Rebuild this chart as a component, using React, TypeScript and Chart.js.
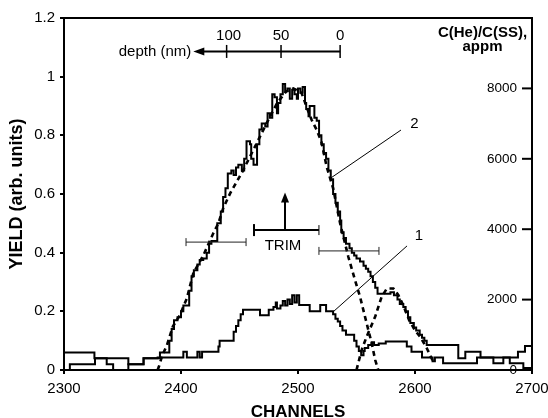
import React, { useEffect, useRef } from 'react';
import { Chart, registerables } from 'chart.js';

Chart.register(...registerables);

const FONT = "'Liberation Sans', Arial, Helvetica, sans-serif";

// x-axis (channels) and y-axis ticks
const channelTicks = [2300, 2400, 2500, 2600, 2700];
const yieldTicks = [0, 0.2, 0.4, 0.6, 0.8, 1, 1.2];
const heTicks = [0, 2000, 4000, 6000, 8000];

// Curve 2 – measured yield (solid, step-like) [channel, yield]
const curve2: [number, number][] = [
  [2300, 0.06], [2326, 0.04], [2355, 0.02], [2368, 0.04], [2376, 0.04], [2382, 0.06], [2390, 0.10],
  [2392, 0.14], [2394, 0.17], [2397, 0.18], [2400, 0.20], [2402, 0.22], [2407, 0.27], [2409, 0.32],
  [2411, 0.34], [2414, 0.36], [2416, 0.375], [2419, 0.38], [2422, 0.40], [2424, 0.43], [2426, 0.44],
  [2431, 0.50], [2434, 0.54], [2436, 0.59], [2438, 0.62], [2440, 0.67], [2443, 0.68], [2445, 0.665],
  [2447, 0.69], [2449, 0.70], [2452, 0.68], [2454, 0.72], [2456, 0.78], [2459, 0.77], [2460, 0.72],
  [2462, 0.70], [2465, 0.77], [2467, 0.82], [2469, 0.84], [2472, 0.83], [2474, 0.875], [2476, 0.86],
  [2478, 0.94], [2480, 0.93], [2482, 0.875], [2483, 0.91], [2485, 0.94], [2487, 0.975], [2489, 0.95],
  [2491, 0.96], [2493, 0.925], [2495, 0.955], [2497, 0.94], [2499, 0.925], [2500, 0.96], [2502, 0.945],
  [2504, 0.965], [2506, 0.91], [2507, 0.89], [2509, 0.865], [2510, 0.90], [2514, 0.86], [2516, 0.85],
  [2518, 0.80], [2520, 0.77], [2522, 0.74], [2524, 0.72], [2526, 0.68], [2528, 0.65], [2530, 0.60],
  [2532, 0.57], [2534, 0.54], [2536, 0.51], [2537, 0.47], [2539, 0.45], [2541, 0.43], [2544, 0.415],
  [2546, 0.40], [2548, 0.39], [2550, 0.38], [2553, 0.37], [2556, 0.355], [2558, 0.345], [2560, 0.335],
  [2562, 0.32], [2564, 0.30], [2566, 0.28], [2568, 0.26], [2579, 0.265], [2582, 0.255], [2585, 0.24],
  [2587, 0.225], [2590, 0.215], [2592, 0.20], [2594, 0.18], [2596, 0.16], [2599, 0.145], [2601, 0.135],
  [2604, 0.12], [2606, 0.11], [2608, 0.10], [2610, 0.085], [2637, 0.04], [2643, 0.062], [2656, 0.043],
  [2688, 0.062], [2694, 0.082], [2700, 0.082],
];

// Curve 1 – measured yield (solid, step-like) [channel, yield]
const curve1: [number, number][] = [
  [2300, 0], [2305, 0.02], [2326.5, 0.04], [2336.5, 0.02], [2342, 0], [2355, 0.02], [2368, 0.04],
  [2380, 0.043], [2402, 0.062], [2405, 0.043], [2414, 0.062], [2416, 0.043], [2418, 0.062], [2432, 0.08],
  [2433, 0.10], [2445, 0.13], [2447, 0.15], [2449, 0.17], [2451, 0.19], [2453, 0.205], [2467.5, 0.187],
  [2475, 0.205], [2479, 0.215], [2481, 0.23], [2482, 0.21], [2485, 0.22], [2487, 0.235], [2489, 0.22],
  [2491, 0.24], [2493, 0.225], [2495, 0.255], [2497, 0.23], [2499, 0.255], [2501, 0.222], [2510, 0.20],
  [2519, 0.222], [2524, 0.20], [2530, 0.19], [2532, 0.175], [2534, 0.165], [2536, 0.15], [2538, 0.135],
  [2541, 0.12], [2548, 0.10], [2550, 0.08], [2552, 0.065], [2554, 0.05], [2556, 0.065], [2557, 0.075],
  [2560, 0.085], [2563, 0.095], [2565, 0.085], [2569, 0.09], [2575, 0.097], [2593, 0.08], [2597, 0.062],
  [2606, 0.043], [2615, 0.03], [2617, 0.043], [2624, 0.023], [2653, 0.043], [2667, 0.023],
  [2675.5, 0.043], [2681, 0.023], [2692.6, 0.007], [2700, 0.007],
];

// Calculated profiles (dashed) [channel, yield]
const calcMain: [number, number][] = [
  [2380, 0], [2381, 0.01], [2384, 0.05], [2388, 0.085], [2393, 0.148], [2399, 0.187], [2405, 0.244],
  [2410.5, 0.33], [2419, 0.39], [2427.6, 0.466], [2432, 0.50], [2436, 0.551], [2442, 0.602], [2453, 0.68],
  [2464.7, 0.773], [2473, 0.84], [2482, 0.909], [2490, 0.95], [2496, 0.96], [2503, 0.945], [2508, 0.89],
  [2511.7, 0.852], [2516, 0.818], [2520, 0.778], [2524.5, 0.693], [2530, 0.62], [2536, 0.5],
  [2543, 0.386], [2548.7, 0.307], [2553, 0.25], [2558.7, 0.159], [2563, 0.091], [2566, 0.034],
  [2568.6, 0],
];
const calcSurface: [number, number][] = [
  [2550, 0], [2554.4, 0.068], [2558.7, 0.114], [2566, 0.182], [2571.5, 0.25], [2576, 0.278],
  [2581.5, 0.278], [2585.7, 0.256], [2590, 0.22], [2595, 0.17], [2600, 0.135], [2605, 0.11],
  [2610, 0.075], [2615.6, 0.028],
];

// Depth scale (nm) placed on channel axis
const depthLabels = ['100', '50', '0'];
const depthChannels = [2439, 2485.5, 2536];
const depthArrowTip = 2410.5;
const depthLevel = 1.086;

// Annotation anchors in data units
const trimArrow = { ch: 2488.9, from: 0.477, to: 0.605 };
const trimBar = { from: 2462.4, to: 2517.9, y: 0.477 };
const errBars = [
  { from: 2404.3, to: 2455.6, y: 0.436 },
  { from: 2517.9, to: 2569.2, y: 0.406 },
];
const leaders = [
  { label: '2', tx: 2599.6, ty: 0.824, x1: 2588, y1: 0.818, x2: 2528.2, y2: 0.655 },
  { label: '1', tx: 2603.4, ty: 0.443, x1: 2593.2, y1: 0.423, x2: 2530.8, y2: 0.201 },
];

const toXY = (arr: [number, number][]) => arr.map(([x, y]) => ({ x, y }));

const overlay = {
  id: 'overlay',
  afterDraw(chart: any) {
    const { ctx, chartArea, scales } = chart;
    const sx = scales.x;
    const sy = scales.y;
    const s2 = scales.y2;
    const px = (c: number) => sx.getPixelForValue(c);
    const py = (v: number) => sy.getPixelForValue(v);
    const line = (x1: number, y1: number, x2: number, y2: number, w: number, col = '#000') => {
      ctx.beginPath();
      ctx.lineWidth = w;
      ctx.strokeStyle = col;
      ctx.moveTo(x1, y1);
      ctx.lineTo(x2, y2);
      ctx.stroke();
    };
    ctx.save();
    ctx.lineCap = 'butt';
    // top frame
    line(chartArea.left - 1, chartArea.top, chartArea.right + 1, chartArea.top, 2);
    // inner ticks of right axis
    heTicks.forEach((v) => {
      const yy = s2.getPixelForValue(v);
      line(chartArea.right - 10, yy, chartArea.right, yy, 2);
    });
    // right axis title
    ctx.fillStyle = '#000';
    ctx.font = `bold 15px ${FONT}`;
    ctx.textAlign = 'center';
    ctx.textBaseline = 'alphabetic';
    ctx.fillText('C(He)/C(SS),', px(2657.7), py(1.134));
    ctx.fillText('appm', px(2657.7), py(1.089));

    // depth scale
    ctx.font = `15px ${FONT}`;
    const dy = py(depthLevel);
    const tipX = px(depthArrowTip);
    line(tipX + 8, dy, px(depthChannels[depthChannels.length - 1]), dy, 2);
    ctx.beginPath();
    ctx.moveTo(tipX, dy);
    ctx.lineTo(tipX + 11, dy - 4);
    ctx.lineTo(tipX + 11, dy + 4);
    ctx.closePath();
    ctx.fill();
    depthChannels.forEach((c, i) => {
      line(px(c), dy - 6.5, px(c), dy + 6.5, 1.5);
      ctx.textAlign = 'center';
      ctx.fillText(depthLabels[i], px(c) + (i === 0 ? 2 : 0), py(1.125));
    });
    ctx.textAlign = 'right';
    ctx.textBaseline = 'middle';
    ctx.fillText('depth (nm)', tipX - 2, dy);

    // TRIM marker
    const ax = px(trimArrow.ch);
    const ay1 = py(trimArrow.from);
    const ay2 = py(trimArrow.to);
    line(ax, ay1, ax, ay2 + 8, 2);
    ctx.beginPath();
    ctx.moveTo(ax, ay2);
    ctx.lineTo(ax - 4, ay2 + 10);
    ctx.lineTo(ax + 4, ay2 + 10);
    ctx.closePath();
    ctx.fill();
    const by = py(trimBar.y);
    line(px(trimBar.from), by, px(trimBar.to), by, 2);
    line(px(trimBar.from), by - 6, px(trimBar.from), by + 6, 2);
    line(px(trimBar.to), by - 5, px(trimBar.to), by + 5, 1);
    ctx.textAlign = 'center';
    ctx.textBaseline = 'alphabetic';
    ctx.fillText('TRIM', px(2487.2), py(0.409));

    // error bars
    errBars.forEach((b) => {
      const yy = py(b.y);
      line(px(b.from), yy, px(b.to), yy, 1, '#222');
      line(px(b.from), yy - 4, px(b.from), yy + 4, 1, '#222');
      line(px(b.to), yy - 4, px(b.to), yy + 4, 1, '#222');
    });

    // leader lines with labels
    leaders.forEach((l) => {
      line(px(l.x1), py(l.y1), px(l.x2), py(l.y2), 1);
      ctx.textAlign = 'center';
      ctx.fillText(l.label, px(l.tx), py(l.ty));
    });
    ctx.restore();
  },
};

export default function App() {
  const ref = useRef<HTMLCanvasElement>(null);
  useEffect(() => {
    const solid = (data: [number, number][]) => ({
      data: toXY(data),
      borderColor: '#000',
      borderWidth: 2,
      pointRadius: 0,
      stepped: true as const,
      fill: false,
    });
    const dashed = (data: [number, number][]) => ({
      data: toXY(data),
      borderColor: '#000',
      borderWidth: 2.6,
      borderDash: [5, 4],
      pointRadius: 0,
      tension: 0,
      fill: false,
    });
    const chart = new Chart(ref.current as HTMLCanvasElement, {
      type: 'line',
      data: {
        datasets: [solid(curve2), solid(curve1), dashed(calcMain), dashed(calcSurface)],
      },
      options: {
        responsive: false,
        animation: false,
        devicePixelRatio: 1,
        layout: { padding: { top: 18, left: 0, right: 0, bottom: 0 } },
        plugins: { legend: { display: false }, tooltip: { enabled: false } },
        scales: {
          x: {
            type: 'linear',
            min: 2300,
            max: 2700,
            afterBuildTicks: (s: any) => {
              s.ticks = channelTicks.map((v) => ({ value: v }));
            },
            afterFit: (s: any) => {
              s.height = 48;
              s.paddingLeft = 0;
              s.paddingRight = 0;
            },
            ticks: {
              color: '#000',
              font: { family: FONT, size: 15 },
              padding: 6,
              maxRotation: 0,
              callback: (v: any) => String(v),
            },
            grid: { drawOnChartArea: false, drawTicks: true, tickLength: 4, color: '#000', lineWidth: 2 },
            border: { color: '#000', width: 2 },
            title: {
              display: true,
              text: 'CHANNELS',
              color: '#000',
              font: { family: FONT, size: 17, weight: 'bold', lineHeight: 1 },
              padding: { top: 0, bottom: -3 },
            },
          },
          y: {
            type: 'linear',
            min: 0,
            max: 1.2,
            afterBuildTicks: (s: any) => {
              s.ticks = yieldTicks.map((v) => ({ value: v }));
            },
            afterFit: (s: any) => {
              s.width = 64;
              s.paddingTop = 0;
              s.paddingBottom = 0;
            },
            ticks: {
              color: '#000',
              font: { family: FONT, size: 15 },
              padding: 5,
              callback: (v: any) => String(Math.round(Number(v) * 10) / 10),
            },
            grid: { drawOnChartArea: false, drawTicks: true, tickLength: 4, color: '#000', lineWidth: 2 },
            border: { color: '#000', width: 2 },
            title: {
              display: true,
              text: 'YIELD (arb. units)',
              color: '#000',
              font: { family: FONT, size: 18, weight: 'bold', lineHeight: 1 },
              padding: { top: 8, bottom: 0 },
            },
          },
          y2: {
            type: 'linear',
            position: 'right',
            min: 0,
            max: 10000,
            afterBuildTicks: (s: any) => {
              s.ticks = heTicks.map((v) => ({ value: v }));
            },
            afterFit: (s: any) => {
              s.width = 16;
              s.paddingTop = 0;
              s.paddingBottom = 0;
            },
            ticks: {
              mirror: true,
              padding: -15,
              color: '#000',
              font: { family: FONT, size: 13.5 },
              callback: (v: any) => String(v),
            },
            grid: { drawOnChartArea: false, drawTicks: false },
            border: { color: '#000', width: 2 },
          },
        },
      } as any,
      plugins: [overlay],
    });
    return () => chart.destroy();
  }, []);
  return (
    <div style={{ position: 'fixed', left: 0, top: 0, width: 548, height: 418, background: '#fff' }}>
      <canvas ref={ref} width={548} height={418} style={{ display: 'block' }} />
    </div>
  );
}
